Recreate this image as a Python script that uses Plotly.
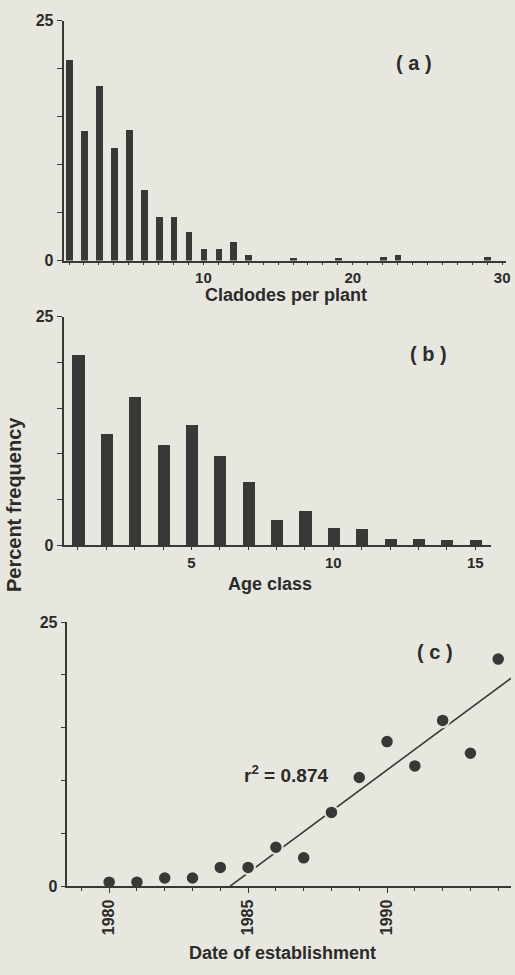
import numpy as np
import plotly.graph_objects as go

# ---- data ----
cladode_counts = [1, 2, 3, 4, 5, 6, 7, 8, 9, 10, 11, 12, 13, 16, 19, 22, 23, 29]
cladode_pct = [20.9, 13.5, 18.2, 11.8, 13.6, 7.4, 4.6, 4.6, 3.0, 1.2, 1.2, 2.0, 0.6,
               0.3, 0.3, 0.4, 0.6, 0.4]

age_class = list(range(1, 16))
age_pct = [20.8, 12.2, 16.3, 11.0, 13.2, 9.8, 7.0, 2.8, 3.8, 2.0, 1.8, 0.8, 0.8, 0.6, 0.7]

est_year = list(range(1980, 1995))
est_pct = [0.4, 0.4, 0.8, 0.8, 1.8, 1.8, 3.7, 2.7, 7.0, 10.3, 13.7, 11.4, 15.7, 12.6, 21.5]
fit_from_year = 1985
r2_label = "r<sup>2</sup> = 0.874"

x_ticks_a = [10, 20, 30]
x_ticks_b = [5, 10, 15]
x_ticks_c = [1980, 1985, 1990]
y_ticks = [0, 25]

# ---- styling ----
W, H = 515, 975
BG = "#e7e7df"
INK = "#383836"
TEXT = "#2b2b2a"
FONT = "Liberation Sans"

# regression on the later establishment years
yrs = np.array(est_year, dtype=float)
vals = np.array(est_pct, dtype=float)
sel = yrs >= fit_from_year
slope, intercept = np.polyfit(yrs[sel], vals[sel], 1)
x_range_c = [1978.5, 1994.46]
fit_x = np.array([-intercept / slope, x_range_c[1]])
fit_y = slope * fit_x + intercept


def px_x(p):
    return p / W


def px_y(p):
    return (H - p) / H


fig = go.Figure()

fig.add_trace(go.Bar(x=cladode_counts, y=cladode_pct, width=0.45,
                     marker=dict(color=INK, line=dict(width=0)),
                     xaxis="x", yaxis="y"))
fig.add_trace(go.Bar(x=age_class, y=age_pct, width=0.43,
                     marker=dict(color=INK, line=dict(width=0)),
                     xaxis="x2", yaxis="y2"))
fig.add_trace(go.Scatter(x=fit_x, y=fit_y, mode="lines",
                         line=dict(color=INK, width=1.6),
                         xaxis="x3", yaxis="y3"))
fig.add_trace(go.Scatter(x=est_year, y=est_pct, mode="markers",
                         marker=dict(color=INK, size=13.5, line=dict(color=BG, width=2)),
                         xaxis="x3", yaxis="y3", cliponaxis=False))

tickfont = dict(family=FONT, size=15, color=TEXT, weight="bold")

common_x = dict(showline=True, linecolor=INK, linewidth=1.6, showgrid=False,
                zeroline=False, ticks="outside", ticklen=3, tickwidth=1.2,
                tickcolor=INK, tickfont=tickfont, tickmode="array",
                ticklabeloverflow="allow",
                minor=dict(dtick=1, ticklen=3, tickwidth=1, tickcolor=INK, ticks="outside"))
common_y = dict(showline=True, linecolor=INK, linewidth=1.6, showgrid=False,
                zeroline=False, ticks="outside", ticklen=5, tickwidth=1.2,
                tickcolor=INK, tickfont=dict(tickfont, size=16), tickmode="array",
                tickvals=y_ticks, range=[0, 25],
                minor=dict(tickvals=[5, 10, 15, 20], ticklen=5, tickwidth=1.2,
                           tickcolor=INK, ticks="outside"))

fig.update_layout(
    width=W, height=H,
    margin=dict(l=0, r=0, t=0, b=0),
    paper_bgcolor=BG, plot_bgcolor=BG,
    showlegend=False,
    bargap=0,
    xaxis=dict(common_x, domain=[px_x(64), px_x(510)], range=[0.63, 30.26],
               tickvals=x_ticks_a, anchor="y"),
    yaxis=dict(common_y, domain=[px_y(257), px_y(13)], anchor="x"),
    xaxis2=dict(common_x, domain=[px_x(64), px_x(495)], range=[0.49, 15.56],
                tickvals=x_ticks_b, anchor="y2"),
    yaxis2=dict(common_y, domain=[px_y(547), px_y(314)], anchor="x2"),
    xaxis3=dict(common_x, domain=[px_x(68), 1.0], range=x_range_c,
                tickvals=x_ticks_c, tickangle=-90, anchor="y3",
                tickfont=dict(tickfont, size=16), ticklen=5),
    yaxis3=dict(common_y, domain=[px_y(894), px_y(625)], anchor="x3"),
)


def label(text, x, y, size, angle=0):
    return dict(text=text, x=px_x(x), y=px_y(y), xref="paper", yref="paper",
                showarrow=False, textangle=angle, xanchor="center", yanchor="middle",
                font=dict(family=FONT, size=size, color=TEXT, weight="bold"))


fig.update_layout(annotations=[
    label("( a )", 417, 56, 20),
    label("( b )", 432, 352, 20),
    label("( c )", 438, 655, 20),
    label(r2_label, 288, 780, 19),
    label("Cladodes per plant", 288, 292, 18),
    label("Age class", 272, 586, 18),
    label("Date of establishment", 285, 962, 18),
    label("Percent frequency", 14, 505, 20, angle=-90),
])

fig.write_html("out.html")
